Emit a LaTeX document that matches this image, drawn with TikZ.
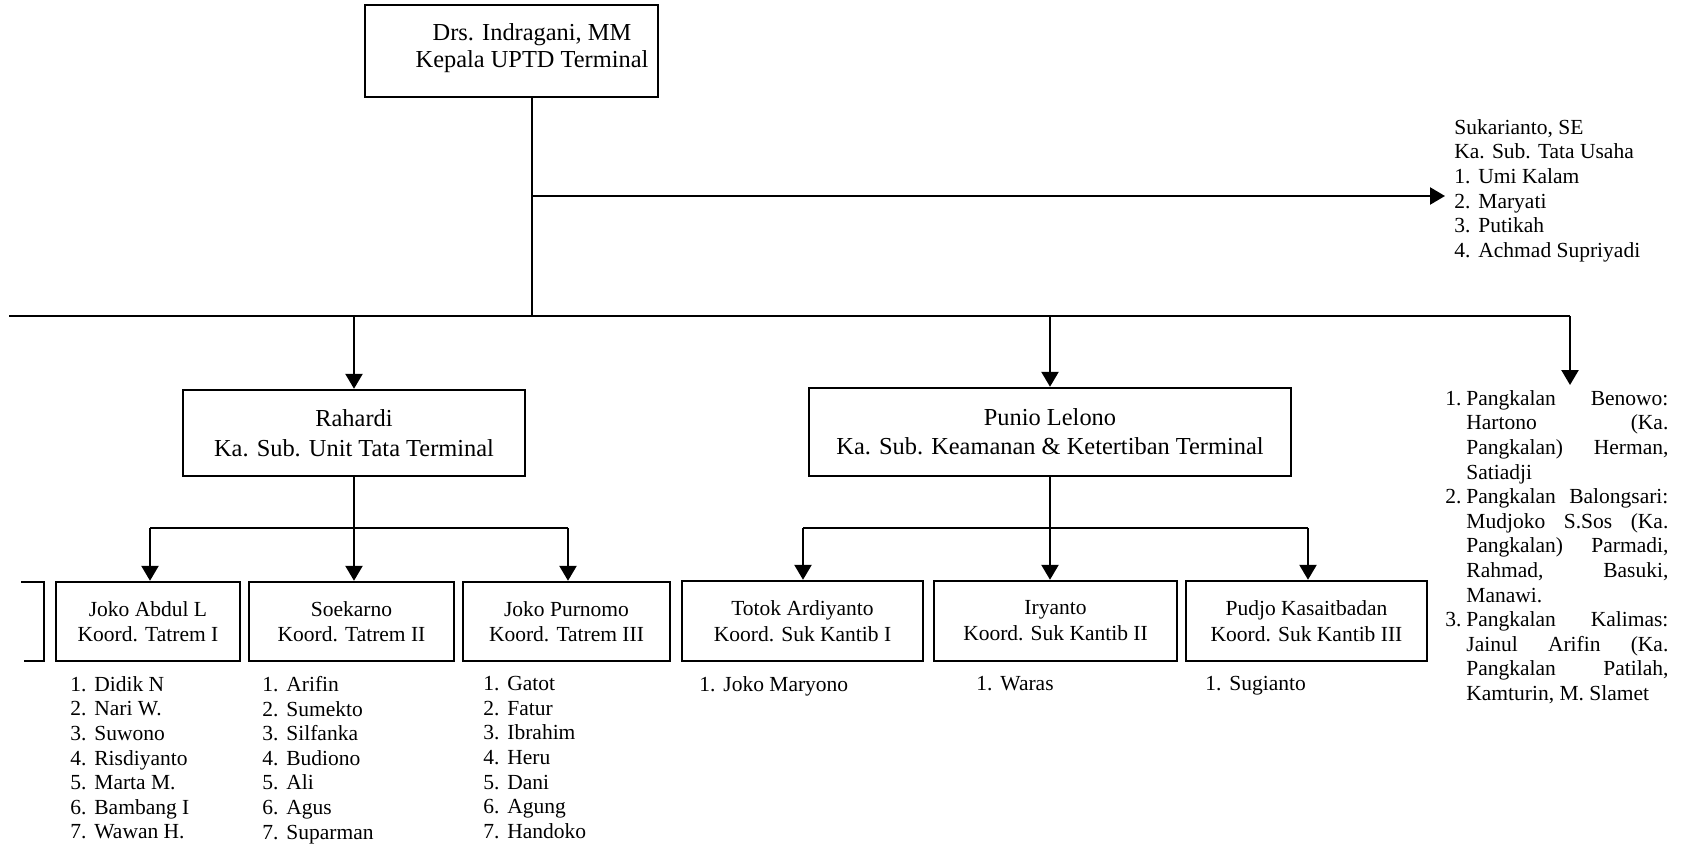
\documentclass[tikz,border=0pt]{standalone}
\usepackage{fontspec}
\setmainfont{Liberation Serif}
\usetikzlibrary{arrows.meta}
\newcommand\nitem[2]{\makebox[12pt][l]{#1.}#2}
\newcommand\pnum[1]{\makebox[10.5pt][l]{#1.}}
\newcommand\jline[1]{\makebox[101pt][s]{#1}}
\begin{document}
\begin{tikzpicture}[x=0.5pt,y=-0.5pt,
    every node/.style={font=\fontsize{10.75}{12.3}\selectfont},
    unitbox/.style={draw,line width=1.2pt,align=center,inner sep=0pt},
    headbox/.style={unitbox,font=\fontsize{12.2}{13.6}\selectfont},
    link/.style={line width=1.2pt},
    arrowlink/.style={line width=1.2pt,-{Triangle[length=7.5pt,width=8.5pt]}},
    namelist/.style={align=left,inner sep=0pt,anchor=north west}]
    \useasboundingbox (0,0) rectangle (1691,846);

    \node[headbox,minimum width=146.5pt,minimum height=46pt] (kepala) at (511.5,51) {};
    \node[align=center,font=\fontsize{12.2}{13.6}\selectfont] (kepalatext) at (532,48.5) {Drs. Indragani, MM\\Kepala UPTD Terminal};

    \coordinate (trunk) at (532,97);
    \coordinate (tatausaha) at (1445,196);
    \coordinate (mainL) at (9,316);
    \coordinate (mainR) at (1570,316);
    \coordinate (pangtip) at (1570,385);

    \draw[link] (trunk) -- (trunk |- mainL);
    \draw[arrowlink] (trunk |- tatausaha) -- (tatausaha);
    \node[namelist] (sukarianto) at (1454,119) {Sukarianto, SE\\ Ka. Sub. Tata Usaha\\ \nitem{1}{Umi Kalam}\\ \nitem{2}{Maryati}\\ \nitem{3}{Putikah}\\ \nitem{4}{Achmad Supriyadi}};

    \draw[link] (mainL) -- (mainR);
    \draw[arrowlink] (mainR) -- (pangtip);

    \node[headbox,minimum width=171pt,minimum height=43pt] (rahardi) at (354,433) {Rahardi\\[1.2pt]Ka. Sub. Unit Tata Terminal};
    \node[headbox,minimum width=241pt,minimum height=44pt] (punio) at (1050,432) {Punio Lelono\\[1pt]Ka. Sub. Keamanan \& Ketertiban Terminal};
    \draw[arrowlink] (rahardi.north |- mainL) -- (rahardi.north);
    \draw[arrowlink] (punio.north |- mainL) -- (punio.north);

    % tata terminal
    \node[unitbox,minimum width=92pt,minimum height=39.5pt] (tatrem1) at (148,621.5) {Joko Abdul L\\Koord. Tatrem I};
    \node[unitbox,minimum width=102.5pt,minimum height=39.5pt] (tatrem2) at (351.5,621.5) {Soekarno\\Koord. Tatrem II};
    \node[unitbox,minimum width=103.5pt,minimum height=39.5pt] (tatrem3) at (566.5,621.5) {Joko Purnomo\\Koord. Tatrem III};
    \coordinate (rbusL) at (150,528);
    \coordinate (rbusR) at (568,528);
    \draw[link] (rahardi.south) -- (rahardi.south |- rbusL);
    \draw[link] (rbusL) -- (rbusR);
    \draw[arrowlink] (rbusL) -- (rbusL |- tatrem1.north);
    \draw[arrowlink] (rahardi.south |- rbusL) -- (rahardi.south |- tatrem2.north);
    \draw[arrowlink] (rbusR) -- (rbusR |- tatrem3.north);
    \draw[link] (21,582) -| (44,661) -- (24,661);

    \node[namelist] (tatlist1) at (70,676) {\nitem{1}{Didik N}\\ \nitem{2}{Nari W.}\\ \nitem{3}{Suwono}\\ \nitem{4}{Risdiyanto}\\ \nitem{5}{Marta M.}\\ \nitem{6}{Bambang I}\\ \nitem{7}{Wawan H.}};
    \node[namelist] (tatlist2) at (262,676) {\nitem{1}{Arifin}\\ \nitem{2}{Sumekto}\\ \nitem{3}{Silfanka}\\ \nitem{4}{Budiono}\\ \nitem{5}{Ali}\\ \nitem{6}{Agus}\\ \nitem{7}{Suparman}};
    \node[namelist] (tatlist3) at (483,676) {\nitem{1}{Gatot}\\ \nitem{2}{Fatur}\\ \nitem{3}{Ibrahim}\\ \nitem{4}{Heru}\\ \nitem{5}{Dani}\\ \nitem{6}{Agung}\\ \nitem{7}{Handoko}};

    % keamanan & ketertiban
    \node[unitbox,minimum width=120.5pt,minimum height=40pt] (kantib1) at (802.5,621) {Totok Ardiyanto\\[0.7pt]Koord. Suk Kantib I};
    \node[unitbox,minimum width=121.5pt,minimum height=40pt] (kantib2) at (1055.5,621) {Iryanto\\[0.7pt]Koord. Suk Kantib II};
    \node[unitbox,minimum width=120.5pt,minimum height=40pt] (kantib3) at (1306.5,621) {Pudjo Kasaitbadan\\[0.7pt]Koord. Suk Kantib III};
    \coordinate (kbusL) at (803,528);
    \coordinate (kbusR) at (1308,528);
    \draw[link] (punio.south) -- (punio.south |- kbusL);
    \draw[link] (kbusL) -- (kbusR);
    \draw[arrowlink] (kbusL) -- (kbusL |- kantib1.north);
    \draw[arrowlink] (punio.south |- kbusL) -- (punio.south |- kantib2.north);
    \draw[arrowlink] (kbusR) -- (kbusR |- kantib3.north);

    \node[namelist] (kanlist1) at (699,676) {\nitem{1}{Joko Maryono}};
    \node[namelist] (kanlist2) at (976,676) {\nitem{1}{Waras}};
    \node[namelist] (kanlist3) at (1205,676) {\nitem{1}{Sugianto}};

    % pangkalan
    \node[namelist] (pangkalan) at (1445,390) {\pnum{1}\jline{Pangkalan Benowo:}\\
        \hspace*{10.5pt}\jline{Hartono (Ka.}\\
        \hspace*{10.5pt}\jline{Pangkalan) Herman,}\\
        \hspace*{10.5pt}Satiadji\\
        \pnum{2}\jline{Pangkalan Balongsari:}\\
        \hspace*{10.5pt}\jline{Mudjoko S.Sos (Ka.}\\
        \hspace*{10.5pt}\jline{Pangkalan) Parmadi,}\\
        \hspace*{10.5pt}\jline{Rahmad, Basuki,}\\
        \hspace*{10.5pt}Manawi.\\
        \pnum{3}\jline{Pangkalan Kalimas:}\\
        \hspace*{10.5pt}\jline{Jainul Arifin (Ka.}\\
        \hspace*{10.5pt}\jline{Pangkalan Patilah,}\\
        \hspace*{10.5pt}Kamturin, M. Slamet};
\end{tikzpicture}
\end{document}
